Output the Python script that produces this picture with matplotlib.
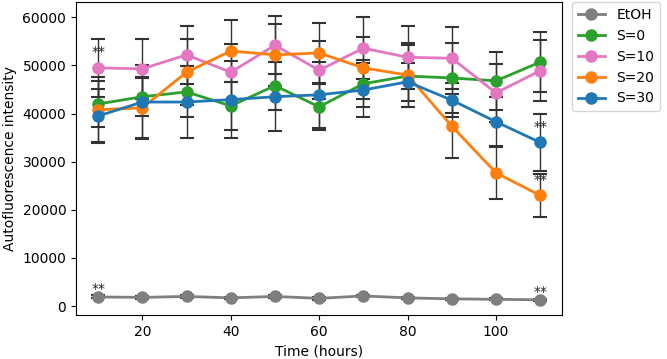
import matplotlib
matplotlib.use("Agg")
import matplotlib.pyplot as plt

hours = [10, 20, 30, 40, 50, 60, 70, 80, 90, 100, 110]

etoh = [1900, 1800, 2000, 1700, 2000, 1600, 2100, 1700, 1500, 1400, 1300]
etoh_err = [300, 250, 300, 250, 300, 250, 300, 250, 200, 200, 200]
s0 = [42000, 43500, 44500, 41600, 45800, 41400, 46200, 47800, 47400, 46800, 50700]
s0_err = [4800, 4000, 5300, 5000, 5000, 4800, 4900, 6500, 7300, 6000, 6200]
s10 = [49500, 49300, 52200, 48600, 54200, 49000, 53600, 51700, 51500, 44300, 48900]
s10_err = [6000, 6200, 6000, 5800, 6000, 6000, 6400, 6600, 6400, 6000, 6300]
s20 = [40800, 41200, 48600, 53000, 52200, 52600, 49500, 48000, 37400, 27700, 23000]
s20_err = [6700, 6200, 6800, 6400, 6400, 6200, 6400, 6600, 6700, 5500, 4500]
s30 = [39500, 42400, 42400, 42900, 43500, 43900, 44900, 46600, 42800, 38300, 34000]
s30_err = [5600, 7600, 7500, 8000, 7200, 6800, 5700, 4000, 3600, 5200, 5900]

series_names = ["EtOH", "S=0", "S=10", "S=20", "S=30"]
series_values = [etoh, s0, s10, s20, s30]
series_errors = [etoh_err, s0_err, s10_err, s20_err, s30_err]
series_colors = ["tab:gray", "tab:green", "tab:pink", "tab:orange", "tab:blue"]

# significance marks: (series name, hour)
stars = [("S=10", 10), ("EtOH", 10), ("S=30", 110), ("S=20", 110), ("EtOH", 110)]

fig = plt.figure(figsize=(6.67, 3.59), dpi=100)
ax = fig.add_axes([0.114, 0.1226, 0.729, 0.8714])

handles = []
for k, (name, vals, errs, col) in enumerate(zip(series_names, series_values, series_errors, series_colors)):
    cont = ax.errorbar(hours, vals, yerr=errs, color=col, marker="o", markersize=8,
                       linewidth=2, ecolor="#333333", elinewidth=1, capsize=5,
                       capthick=1.5, label=name)
    if name == "EtOH":
        cont[0].set_zorder(3)
    handles.append(cont[0])

for name, h in stars:
    i = series_names.index(name)
    v = series_values[i][hours.index(h)]
    off = 1600 if name == "EtOH" else 3300
    ax.text(h, v + off, "**", ha="center", va="center", fontsize=10, color="#222222")

ax.set_xlabel("Time (hours)")
ax.set_ylabel("Autofluorescence intensity")
ax.legend(handles, series_names, loc="upper left", bbox_to_anchor=(1.02, 1.0),
          borderaxespad=0)

fig.savefig("out.png", dpi=100)
